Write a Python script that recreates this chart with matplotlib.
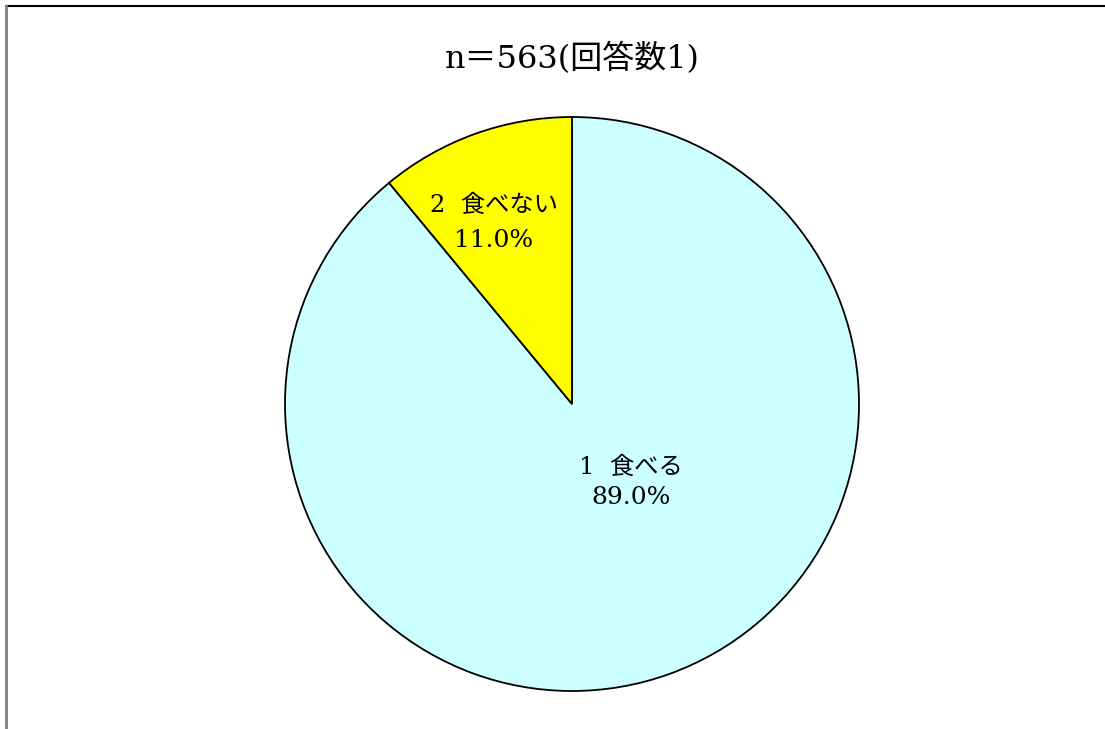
import matplotlib
matplotlib.use("Agg")
import matplotlib.pyplot as plt
from matplotlib.lines import Line2D

plt.rcParams['font.family'] = ['DejaVu Serif', 'Noto Sans CJK JP']

categories = ["1  食べる", "2  食べない"]
values = [89.0, 11.0]
colors = ["#CCFFFF", "#FFFF00"]
title = "n＝563(回答数1)"

W, H = 1105, 729
fig = plt.figure(figsize=(W / 100, H / 100), dpi=100)
fig.patch.set_facecolor("white")

cx, cy, r = 572, 404, 287
ax = fig.add_axes([(cx - r) / W, (H - cy - r) / H, 2 * r / W, 2 * r / H])
ax.pie(values, colors=colors, startangle=90, counterclock=False,
       wedgeprops=dict(edgecolor="black", linewidth=1.3))
ax.set_xlim(-1, 1)
ax.set_ylim(-1, 1)
ax.set_aspect("equal")
ax.axis("off")

# label positions (in pie data units): (x, y_name, y_pct)
label_pos = [(0.205, -0.220, -0.326), (-0.272, 0.693, 0.571)]
for cat, v, (x, y1, y2) in zip(categories, values, label_pos):
    ax.text(x, y1, cat, ha="center", va="center", fontsize=17.5, color="black")
    ax.text(x, y2, f"{v:.1f}%", ha="center", va="center", fontsize=18, color="black")

fig.text(cx / W, 1 - 59 / H, title, ha="center", va="center", fontsize=23)

# frame lines
fig.add_artist(Line2D([6 / W, 1.0], [1 - 6 / H, 1 - 6 / H], color="black", lw=1.5,
                      transform=fig.transFigure))
fig.add_artist(Line2D([6 / W, 6 / W], [0, 1 - 6 / H], color="#808080", lw=2,
                      transform=fig.transFigure))

fig.savefig("out.png", dpi=100)
